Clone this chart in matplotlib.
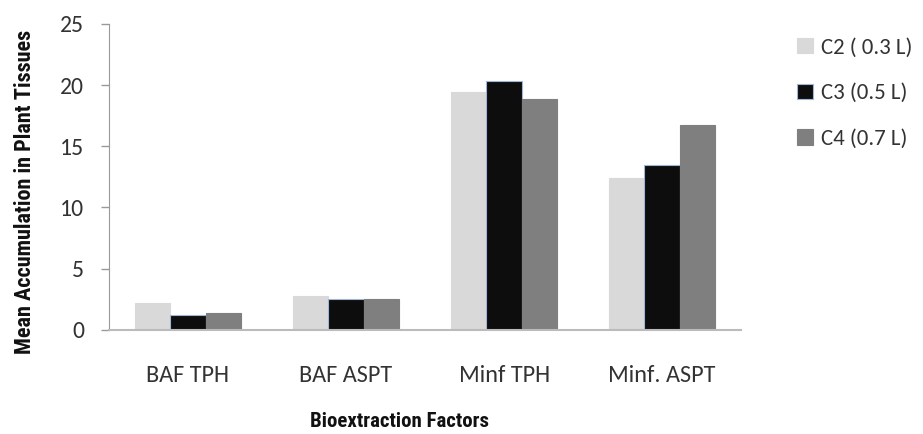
import matplotlib
matplotlib.use("Agg")
import matplotlib.pyplot as plt
import numpy as np

categories = ["BAF TPH", "BAF ASPT", "Minf TPH", "Minf. ASPT"]
series_names = ["C2 ( 0.3 L)", "C3 (0.5 L)", "C4 (0.7 L)"]
c2 = [2.2, 2.8, 19.4, 12.4]
c3 = [1.2, 2.5, 20.3, 13.5]
c4 = [1.4, 2.5, 18.9, 16.7]

colors = ["#d9d9d9", "#0d0d0d", "#7f7f7f"]
edges = ["#d9d9d9", "#9fb6d6", "#7f7f7f"]

body = ['Carlito', 'Open Sans', 'DejaVu Sans']
narrow = ['Roboto Condensed', 'Liberation Sans Narrow', 'DejaVu Sans']
plt.rcParams['font.family'] = body

fig = plt.figure(figsize=(9.23, 4.34), dpi=100)
ax = fig.add_axes([0.118, 0.24, 0.685, 0.705])

x = np.arange(len(categories))
w = 0.225
for i, (vals, name) in enumerate(zip([c2, c3, c4], series_names)):
    ax.bar(x + (i - 1) * w, vals, w, color=colors[i], edgecolor=edges[i],
           linewidth=0.8, label=name)

ax.set_xlim(-0.5, 3.5)
ax.set_ylim(0, 25)
ax.set_yticks([0, 5, 10, 15, 20, 25])
ax.set_xticks(x)
ax.set_xticklabels(categories, fontsize=17.5, color="#333333")
ax.tick_params(axis='x', length=0, pad=25)
ax.tick_params(axis='y', labelsize=17, colors="#999999", labelcolor="#333333",
               length=6, width=1, pad=12)

for s in ["top", "right"]:
    ax.spines[s].set_visible(False)
ax.spines["left"].set_color("#999999")
ax.spines["bottom"].set_color("#bbbbbb")
ax.spines["bottom"].set_linewidth(1.5)

ax.set_ylabel("Mean Accumulation in Plant Tissues", family=narrow,
              fontsize=16, weight='bold', color="#111111")
ax.yaxis.set_label_coords(-0.115, 0.45)
ax.set_xlabel("Bioextraction Factors", family=narrow,
              fontsize=15, weight='semibold', color="#111111")
ax.xaxis.set_label_coords(0.46, -0.27)

leg = ax.legend(loc="upper left", bbox_to_anchor=(1.089, 0.955), frameon=False,
                fontsize=16.5, handlelength=0.66, handleheight=0.66,
                labelspacing=1.12, handletextpad=0.36, borderpad=0,
                borderaxespad=0)
for t in leg.get_texts():
    t.set_color("#333333")

fig.savefig("out.png", dpi=100)
